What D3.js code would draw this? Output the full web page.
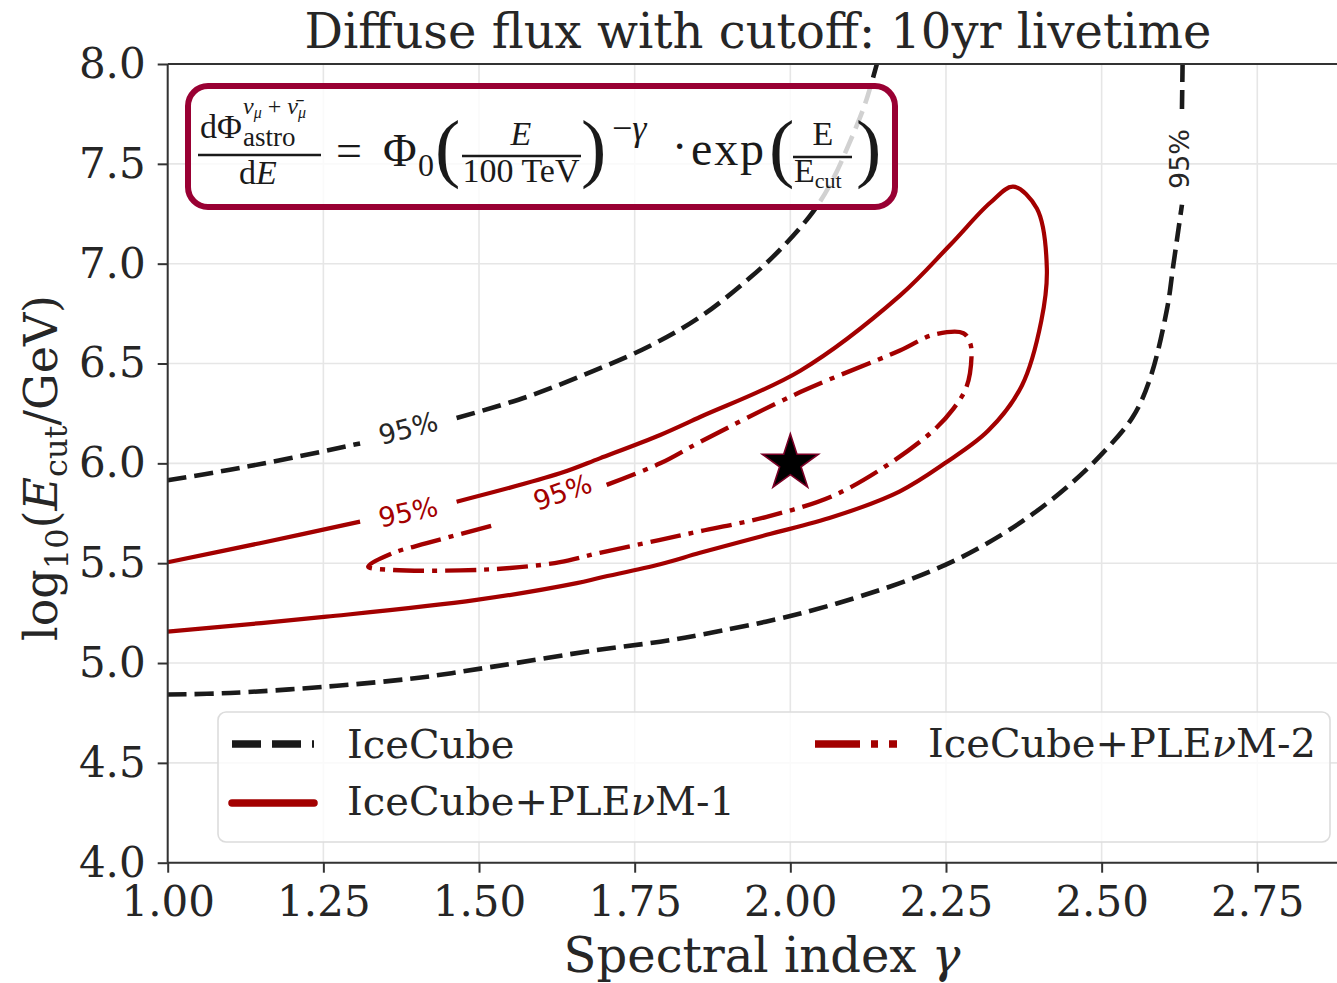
<!DOCTYPE html>
<html>
<head>
<meta charset="utf-8">
<script src="https://cdnjs.cloudflare.com/ajax/libs/d3/7.8.5/d3.min.js"></script>
<style>
  body { margin: 0; background: #fff; }
  svg text { font-family: "DejaVu Serif", serif; fill: #262626; }
  .eq text { font-family: "Liberation Serif", "DejaVu Serif", serif; fill: #1a1a1a; }
</style>
</head>
<body>
<svg id="chart" width="1337" height="983"></svg>
<script>
// ---- data (gamma, log10 Ecut) ----
const xTicks = [1.00, 1.25, 1.50, 1.75, 2.00, 2.25, 2.50, 2.75];
const yTicks = [4.0, 4.5, 5.0, 5.5, 6.0, 6.5, 7.0, 7.5, 8.0];

// IceCube 95% contour (open on the left / top), split where the inline labels sit
const icecubeUpperA = [[1.00, 5.915], [1.10, 5.968], [1.20, 6.028], [1.309, 6.100]];
const icecubeUpperB = [[1.464, 6.227], [1.577, 6.333], [1.683, 6.462], [1.775, 6.589],
  [1.855, 6.733], [1.935, 6.929], [1.985, 7.075], [2.037, 7.262], [2.068, 7.42],
  [2.097, 7.62], [2.12, 7.80], [2.139, 8.0]];
const icecubeLowerA = [[1.00, 4.842], [1.10, 4.850], [1.255, 4.882], [1.40, 4.925],
  [1.523, 4.982], [1.683, 5.062], [1.791, 5.107], [1.855, 5.141], [2.016, 5.248],
  [2.176, 5.400], [2.265, 5.515], [2.337, 5.638], [2.39, 5.748], [2.444, 5.880],
  [2.497, 6.036], [2.55, 6.232], [2.578, 6.427], [2.605, 6.773], [2.615, 6.99],
  [2.624, 7.186], [2.629, 7.295]];
const icecubeLowerB = [[2.629, 7.775], [2.630, 8.0]];

// IceCube + PLEnuM-1 95% contour
const ple1A = [[1.00, 5.505], [1.148, 5.600], [1.309, 5.708]];
const ple1B = [[1.464, 5.808], [1.63, 5.950], [1.694, 6.025], [1.791, 6.142],
  [1.855, 6.232], [2.016, 6.464], [2.176, 6.840], [2.257, 7.095], [2.321, 7.305],
  [2.358, 7.386], [2.396, 7.276], [2.412, 6.975], [2.403, 6.712], [2.372, 6.39],
  [2.318, 6.164], [2.248, 6.0], [2.176, 5.860], [2.069, 5.732], [1.962, 5.642],
  [1.855, 5.552], [1.791, 5.495], [1.694, 5.427], [1.657, 5.400], [1.496, 5.316],
  [1.255, 5.232], [1.00, 5.157]];

// IceCube + PLEnuM-2 95% contour (closed loop, opened at the label)
const ple2 = [[1.705, 5.892], [1.791, 6.000], [1.855, 6.107], [2.016, 6.357],
  [2.176, 6.565], [2.229, 6.643], [2.278, 6.652], [2.289, 6.600], [2.291, 6.535],
  [2.283, 6.383], [2.262, 6.274], [2.230, 6.165], [2.16, 6.0], [2.069, 5.838],
  [1.962, 5.732], [1.855, 5.660], [1.791, 5.617], [1.694, 5.552], [1.63, 5.505],
  [1.55, 5.476], [1.47, 5.464], [1.362, 5.466], [1.322, 5.483], [1.362, 5.551],
  [1.416, 5.600], [1.523, 5.690]];

const bestFit = [2.0, 6.0];

// inline contour labels: [gamma, log10Ecut, angle, colour]
const contourLabels = [
  [1.386, 6.177, -14.5, "#262626"],
  [1.386, 5.757, -11.7, "#a30000"],
  [1.634, 5.857, -19.4, "#a30000"],
  [2.624, 7.524, -90, "#262626"]
];

const legendNames = ["IceCube", "IceCube+PLE", "IceCube+PLE"];
const legendSuffix = ["", "M-1", "M-2"];

// ---- drawing ----
const red = "#a30000";
const svg = d3.select("#chart");

const x = d3.scaleLinear().domain([1.0, 2.878]).range([167.7, 1337]);
const y = d3.scaleLinear().domain([4.0, 8.0]).range([862.7, 64]);

svg.append("defs").append("clipPath").attr("id", "plotclip")
  .append("rect").attr("x", x(1.0)).attr("y", y(8.0))
  .attr("width", 1337 - x(1.0)).attr("height", y(4.0) - y(8.0));

// grid
const grid = svg.append("g");
grid.selectAll(".gx").data(xTicks).enter().append("line")
  .attr("x1", d => x(d)).attr("x2", d => x(d))
  .attr("y1", y(8.0)).attr("y2", y(4.0))
  .attr("stroke", "#e6e6e6").attr("stroke-width", 1.6);
grid.selectAll(".gy").data(yTicks).enter().append("line")
  .attr("x1", x(1.0)).attr("x2", 1337)
  .attr("y1", d => y(d)).attr("y2", d => y(d))
  .attr("stroke", "#e6e6e6").attr("stroke-width", 1.6);

// contours
const line = d3.line().x(d => x(d[0])).y(d => y(d[1]))
  .curve(d3.curveCatmullRom.alpha(0.5));
const plot = svg.append("g").attr("clip-path", "url(#plotclip)");

[icecubeUpperA, icecubeUpperB, icecubeLowerA, icecubeLowerB].forEach(seg => {
  plot.append("path").attr("d", line(seg)).attr("fill", "none")
    .attr("stroke", "#1a1a1a").attr("stroke-width", 4.6)
    .attr("stroke-dasharray", "19 8");
});
[ple1A, ple1B].forEach(seg => {
  plot.append("path").attr("d", line(seg)).attr("fill", "none")
    .attr("stroke", red).attr("stroke-width", 4.2)
    .attr("stroke-linejoin", "round");
});
plot.append("path").attr("d", line(ple2)).attr("fill", "none")
  .attr("stroke", red).attr("stroke-width", 4.4)
  .attr("stroke-dasharray", "31 8 5 8");

// contour labels
svg.selectAll(".clabel").data(contourLabels).enter().append("text")
  .attr("transform", d => `translate(${x(d[0])},${y(d[1])}) rotate(${d[2]})`)
  .attr("text-anchor", "middle").attr("dy", "0.36em")
  .style("font-family", "'DejaVu Sans', sans-serif")
  .style("font-size", "27px")
  .style("fill", d => d[3])
  .text("95%");

// best fit star
svg.append("path")
  .attr("d", d3.symbol().type(d3.symbolStar).size(980)())
  .attr("transform", `translate(${x(bestFit[0])},${y(bestFit[1])})`)
  .attr("fill", "#000").attr("stroke", "#7a0026").attr("stroke-width", 1.6);

// spines
svg.append("line").attr("x1", x(1.0)).attr("x2", 1337).attr("y1", y(8.0)).attr("y2", y(8.0))
  .attr("stroke", "#333").attr("stroke-width", 2);

const xAxis = svg.append("g").attr("transform", `translate(0,${y(4.0)})`)
  .call(d3.axisBottom(x).tickValues(xTicks).tickSize(10).tickPadding(13)
    .tickFormat(d3.format(".2f")));
const yAxis = svg.append("g").attr("transform", `translate(${x(1.0)},0)`)
  .call(d3.axisLeft(y).tickValues(yTicks).tickSize(10).tickPadding(12)
    .tickFormat(d3.format(".1f")));
[xAxis, yAxis].forEach(ax => {
  ax.select(".domain").attr("stroke", "#333").attr("stroke-width", 2);
  ax.selectAll(".tick line").attr("stroke", "#333").attr("stroke-width", 2);
  ax.selectAll(".tick text").attr("fill", "#262626")
    .style("font-family", "'DejaVu Serif', serif").style("font-size", "42px");
});
yAxis.select(".domain").attr("d", `M0,${y(8.0)}V${y(4.0)}`);
xAxis.select(".domain").attr("d", `M${x(1.0)},0H1337`);

// title and axis labels
svg.append("text").attr("x", 758).attr("y", 48).attr("text-anchor", "middle")
  .style("font-size", "48px").text("Diffuse flux with cutoff: 10yr livetime");

const xl = svg.append("text").attr("x", 762).attr("y", 972).attr("text-anchor", "middle")
  .style("font-size", "48px");
xl.append("tspan").text("Spectral index ");
xl.append("tspan").style("font-style", "italic").text("γ");

const yl = svg.append("text").attr("transform", "translate(57,468) rotate(-90)")
  .attr("text-anchor", "middle").style("font-size", "46px");
yl.append("tspan").text("log");
yl.append("tspan").attr("dy", 11).style("font-size", "32px").text("10");
yl.append("tspan").attr("dy", -11).text("(");
yl.append("tspan").style("font-style", "italic").text("E");
yl.append("tspan").attr("dy", 10).style("font-size", "32px").text("cut");
yl.append("tspan").attr("dy", -10).text("/GeV)");

// legend
const lg = svg.append("g");
lg.append("rect").attr("x", 218).attr("y", 712).attr("width", 1112).attr("height", 130)
  .attr("rx", 8).attr("fill", "#fff").attr("fill-opacity", 0.8)
  .attr("stroke", "#dcdcdc").attr("stroke-width", 1.6);
const legendItems = [
  { x: 232, y: 744, tx: 347, ty: 758, color: "#1a1a1a", dash: "29 11" },
  { x: 232, y: 803, tx: 347, ty: 815, color: red, dash: null },
  { x: 815, y: 744, tx: 928, ty: 757, color: red, dash: "45 11 7 11" }
];
legendItems.forEach((it, i) => {
  lg.append("line").attr("x1", it.x).attr("x2", it.x + 82).attr("y1", it.y).attr("y2", it.y)
    .attr("stroke", it.color).attr("stroke-width", 7.5)
    .attr("stroke-linecap", it.dash ? "butt" : "round")
    .attr("stroke-dasharray", it.dash);
  const t = lg.append("text").attr("x", it.tx).attr("y", it.ty).style("font-size", "40px");
  t.append("tspan").text(legendNames[i]);
  if (legendSuffix[i]) {
    t.append("tspan").style("font-style", "italic").text("ν");
    t.append("tspan").text(legendSuffix[i]);
  }
});

// formula box
const eq = svg.append("g").attr("class", "eq");
eq.append("rect").attr("x", 188).attr("y", 86).attr("width", 707).attr("height", 121)
  .attr("rx", 20).attr("fill", "#fff").attr("fill-opacity", 0.8)
  .attr("stroke", "#990033").attr("stroke-width", 6);

function eqText(tx, ty, size, parts, anchor) {
  const t = eq.append("text").attr("x", tx).attr("y", ty)
    .attr("text-anchor", anchor || "start").style("font-size", size + "px");
  parts.forEach(p => {
    const s = t.append("tspan").text(p.t);
    if (p.i) s.style("font-style", "italic");
    if (p.s) s.style("font-size", p.s + "px");
    if (p.dy) s.attr("dy", p.dy);
  });
  return t;
}
function eqBar(x1, x2, yy) {
  eq.append("line").attr("x1", x1).attr("x2", x2).attr("y1", yy).attr("y2", yy)
    .attr("stroke", "#1a1a1a").attr("stroke-width", 2.4);
}
// dPhi / dE
eqText(200, 138, 34, [{ t: "dΦ" }]);
eqText(243, 114, 24, [{ t: "ν", i: 1 }, { t: "μ", i: 1, s: 16, dy: 4 },
  { t: " + ", dy: -4 }, { t: "ν̄", i: 1 }, { t: "μ", i: 1, s: 16, dy: 4 }]);
eqText(243, 146, 27, [{ t: "astro" }]);
eqBar(198, 321, 155);
eqText(258, 184, 34, [{ t: "d" }, { t: "E", i: 1 }], "middle");
eqText(336, 166, 46, [{ t: "=" }]);
eqText(383, 166, 46, [{ t: "Φ" }]);
eqText(418, 176, 32, [{ t: "0" }]);
eqText(435, 173, 76, [{ t: "(" }]);
eqText(521, 145, 34, [{ t: "E", i: 1 }], "middle");
eqBar(462, 581, 156);
eqText(521, 182, 34, [{ t: "100 TeV" }], "middle");
eqText(581, 173, 76, [{ t: ")" }]);
eqText(612, 140, 36, [{ t: "−" }, { t: "γ", i: 1 }]);
eqText(672, 162, 46, [{ t: "·" }]);
eqText(691, 165, 48, [{ t: "exp" }]).attr("textLength", 73);
eqText(769, 173, 76, [{ t: "(" }]);
eqText(823, 145, 34, [{ t: "E" }], "middle");
eqBar(793, 852, 157);
eqText(794, 182, 34, [{ t: "E" }, { t: "cut", s: 22, dy: 6 }]);
eqText(856, 173, 76, [{ t: ")" }]);
</script>
</body>
</html>
